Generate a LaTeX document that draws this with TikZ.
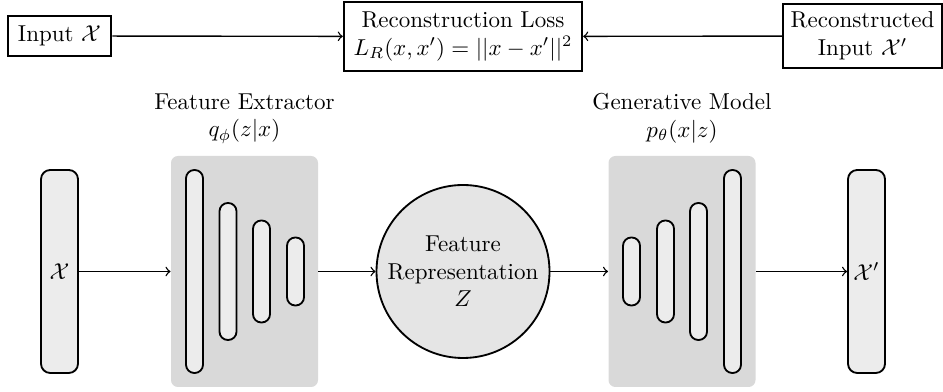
\documentclass[tikz,border=0pt]{standalone}
\begin{document}
\begin{tikzpicture}[x=0.4348pt,y=-0.4348pt,
  io/.style={draw, thick, fill=gray!15, rounded corners=4pt, minimum width=37*0.4348pt, minimum height=203*0.4348pt, inner sep=0pt},
  panel/.style={fill=gray!30, rounded corners=3pt, minimum width=147*0.4348pt, minimum height=231*0.4348pt, inner sep=0pt},
  bar/.style={draw, thick, fill=gray!15, rounded corners=3.6pt, minimum width=17*0.4348pt, inner sep=0pt},
  topbox/.style={draw, line width=0.9pt, align=center, fill=white},
  conn/.style={->, semithick},
  lbl/.style={align=center}]
\useasboundingbox (0,0) rectangle (943,392);
% top row
\node[topbox, inner sep=4.5pt] (in) at (59.5,36) {Input $\mathcal{X}$};
\node[topbox, inner sep=4.2pt] (loss) at (463,36.5) {Reconstruction Loss\\$L_R(x,x')=||x-x'||^2$};
\node[topbox] (rec) at (862.5,36) {Reconstructed\\Input $\mathcal{X}'$};
\draw[conn] (in) -- (loss);
\draw[conn] (rec) -- (loss);
% labels
\node[lbl] (encl) at (244.5,118.5) {Feature Extractor\\$q_\phi(z|x)$};
\node[lbl] (decl) at (682,118.5) {Generative Model\\$p_\theta(x|z)$};
% panels
\node[panel] (enc) at (244.5,271.5) {};
\node[panel] (dec) at (682,271.5) {};
% encoder bars
\node[bar, minimum height=203*0.4348pt] (e1) at (194.5,271.5) {};
\node[bar, minimum height=137*0.4348pt] (e2) at (228,271.5) {};
\node[bar, minimum height=102*0.4348pt] (e3) at (261.5,271.5) {};
\node[bar, minimum height=68*0.4348pt] (e4) at (295.5,271.5) {};
% decoder bars
\node[bar, minimum height=68*0.4348pt] (d1) at (631.5,271.5) {};
\node[bar, minimum height=102*0.4348pt] (d2) at (665.5,271.5) {};
\node[bar, minimum height=137*0.4348pt] (d3) at (698.5,271.5) {};
\node[bar, minimum height=203*0.4348pt] (d4) at (732.5,271.5) {};
% input / output
\node[io] (x) at (59.5,271.5) {$\mathcal{X}$};
\node[io] (xp) at (866.5,271.5) {$\mathcal{X}'$};
% latent
\node[circle, draw, thick, fill=gray!20, minimum size=173*0.4348pt, align=center, inner sep=0pt] (z) at (463,271.5) {Feature\\Representation\\$Z$};
% connectors
\draw[conn] (x) -- (enc);
\draw[conn] (enc) -- (z);
\draw[conn] (z) -- (dec);
\draw[conn] (dec) -- (xp);
\end{tikzpicture}
\end{document}
